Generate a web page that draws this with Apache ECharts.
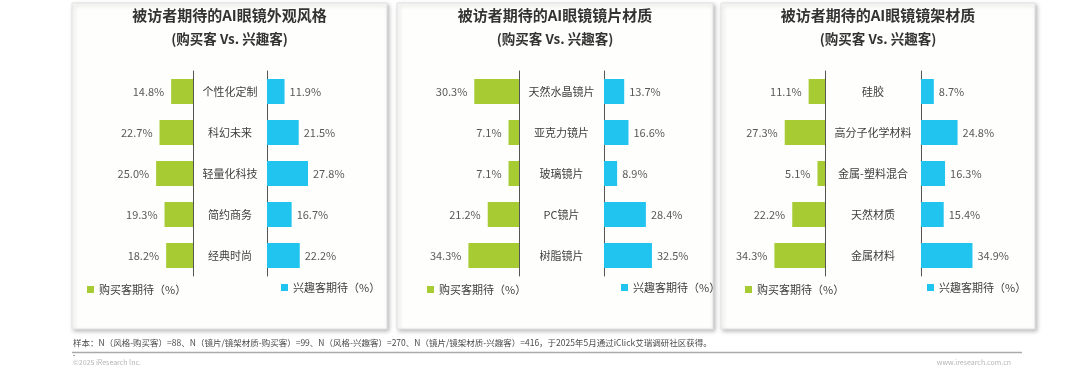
<!DOCTYPE html>
<html><head><meta charset="utf-8">
<script src="https://cdn.jsdelivr.net/npm/echarts@6/dist/echarts.min.js"></script>
<style>html,body{margin:0;padding:0;background:#fff}#c{width:1080px;height:372px}</style>
</head><body><div id="c"></div>
<script>
// ---- data ----
const styleCats = ['个性化定制','科幻未来','轻量化科技','简约商务','经典时尚'];
const styleBuyer = [14.8,22.7,25.0,19.3,18.2];
const styleInterest = [11.9,21.5,27.8,16.7,22.2];
const lensCats = ['天然水晶镜片','亚克力镜片','玻璃镜片','PC镜片','树脂镜片'];
const lensBuyer = [30.3,7.1,7.1,21.2,34.3];
const lensInterest = [13.7,16.6,8.9,28.4,32.5];
const frameCats = ['硅胶','高分子化学材料','金属-塑料混合','天然材质','金属材料'];
const frameBuyer = [11.1,27.3,5.1,22.2,34.3];
const frameInterest = [8.7,24.8,16.3,15.4,34.9];
const titles = ['被访者期待的AI眼镜外观风格','被访者期待的AI眼镜镜片材质','被访者期待的AI眼镜镜架材质'];
const subtitle = '(购买客 Vs. 兴趣客)';
const buyerName = '购买客期待（%）';
const interestName = '兴趣客期待（%）';
const footNote = '样本：N（风格-购买客）=88、N（镜片/镜架材质-购买客）=99、N（风格-兴趣客）=270、N（镜片/镜架材质-兴趣客）=416，于2025年5月通过iClick艾瑞调研社区获得。';

// ---- layout ----
const FONT = '"Noto Sans CJK SC","Noto Sans",sans-serif';
const GREEN = '#a6cb33', BLUE = '#21c3ef';
const panels = [
  {cats: styleCats, b: styleBuyer, i: styleInterest, box:[72,3,315,326], axL:193, axR:267, legG:87, legB:281},
  {cats: lensCats, b: lensBuyer, i: lensInterest, box:[397,3,316,326], axL:519, axR:604, legG:427, legB:621},
  {cats: frameCats, b: frameBuyer, i: frameInterest, box:[721,3,314,326], axL:825, axR:921, legG:745, legB:927}
];
const W = 59, MAXV = 40, TOP = 71, H = 205;

const grid=[], xAxis=[], yAxis=[], series=[], legend=[], graphic=[];
panels.forEach((p,k)=>{
  const [bx,by,bw,bh] = p.box;
  graphic.push({type:'rect', shape:{x:bx,y:by,width:bw,height:bh}, z:-10,
    style:{fill:'#fefefd', stroke:'#e2e2e2', lineWidth:1, shadowBlur:4, shadowOffsetX:1.5, shadowOffsetY:2, shadowColor:'rgba(0,0,0,0.25)'}});
  const cx = bx + bw/2;
  graphic.push({type:'text', x:cx, y:15, style:{text:titles[k], textAlign:'center', textVerticalAlign:'middle', fontSize:15, fontWeight:'bold', fontFamily:FONT, fill:'#333'}});
  graphic.push({type:'text', x:cx, y:39, style:{text:subtitle, textAlign:'center', textVerticalAlign:'middle', fontSize:13.5, fontWeight:'bold', fontFamily:FONT, fill:'#333'}});
  const gl = grid.length;
  grid.push({left:p.axL-W, top:TOP, width:W, height:H});
  grid.push({left:p.axR, top:TOP, width:W, height:H});
  xAxis.push({gridIndex:gl, type:'value', min:0, max:MAXV, inverse:true, show:false});
  xAxis.push({gridIndex:gl+1, type:'value', min:0, max:MAXV, show:false});
  yAxis.push({gridIndex:gl, type:'category', data:p.cats, inverse:true, position:'right',
    axisLine:{show:true, lineStyle:{color:'#555', width:1}}, axisTick:{show:false}, axisLabel:{show:false}});
  const gap = p.axR - p.axL;
  yAxis.push({gridIndex:gl+1, type:'category', data:p.cats, inverse:true, position:'left',
    axisLine:{show:true, lineStyle:{color:'#555', width:1}}, axisTick:{show:false},
    axisLabel:{show:true, align:'center', margin:gap/2, fontSize:11, color:'#404040', fontFamily:FONT}});
  series.push({type:'bar', name:buyerName, xAxisIndex:gl, yAxisIndex:gl, data:p.b, barWidth:25,
    itemStyle:{color:GREEN}, label:{show:true, position:'left', distance:7, fontSize:11, color:'#595959', fontFamily:FONT,
    formatter:(d)=>d.value.toFixed(1)+'%'}});
  series.push({type:'bar', name:interestName, xAxisIndex:gl+1, yAxisIndex:gl+1, data:p.i, barWidth:25,
    itemStyle:{color:BLUE}, label:{show:true, position:'right', distance:5, fontSize:11, color:'#595959', fontFamily:FONT,
    formatter:(d)=>d.value.toFixed(1)+'%'}});
  legend.push({data:[buyerName], left:p.legG, top:284, padding:0, itemWidth:7, itemHeight:7, icon:'rect', selectedMode:false,
    textStyle:{fontSize:11, color:'#404040', fontFamily:FONT}});
  legend.push({data:[interestName], left:p.legB, top:282, padding:0, itemWidth:7, itemHeight:7, icon:'rect', selectedMode:false,
    textStyle:{fontSize:11, color:'#404040', fontFamily:FONT}});
});
// footer
graphic.push({type:'text', x:73, y:343, style:{text:footNote, textVerticalAlign:'middle', fontSize:8.5, fontFamily:FONT, fill:'#4a4a4a'}});
graphic.push({type:'line', shape:{x1:72,y1:352.5,x2:1022,y2:352.5}, style:{stroke:'#aaa', lineWidth:1.5}});
graphic.push({type:'circle', shape:{cx:74,cy:355.5,r:0.8}, style:{fill:'#888'}});
graphic.push({type:'text', x:73, y:362, style:{text:'©2025 iResearch Inc.', textVerticalAlign:'middle', fontSize:7, fontFamily:FONT, fill:'#b5b5b5'}});
graphic.push({type:'text', x:1011, y:362, style:{text:'www.iresearch.com.cn', textAlign:'right', textVerticalAlign:'middle', fontSize:7, fontFamily:FONT, fill:'#b5b5b5'}});

const chart = echarts.init(document.getElementById('c'), null, {renderer:'canvas'});
chart.setOption({animation:false, backgroundColor:'#fff', grid, xAxis, yAxis, series, legend, graphic});
</script></body></html>
